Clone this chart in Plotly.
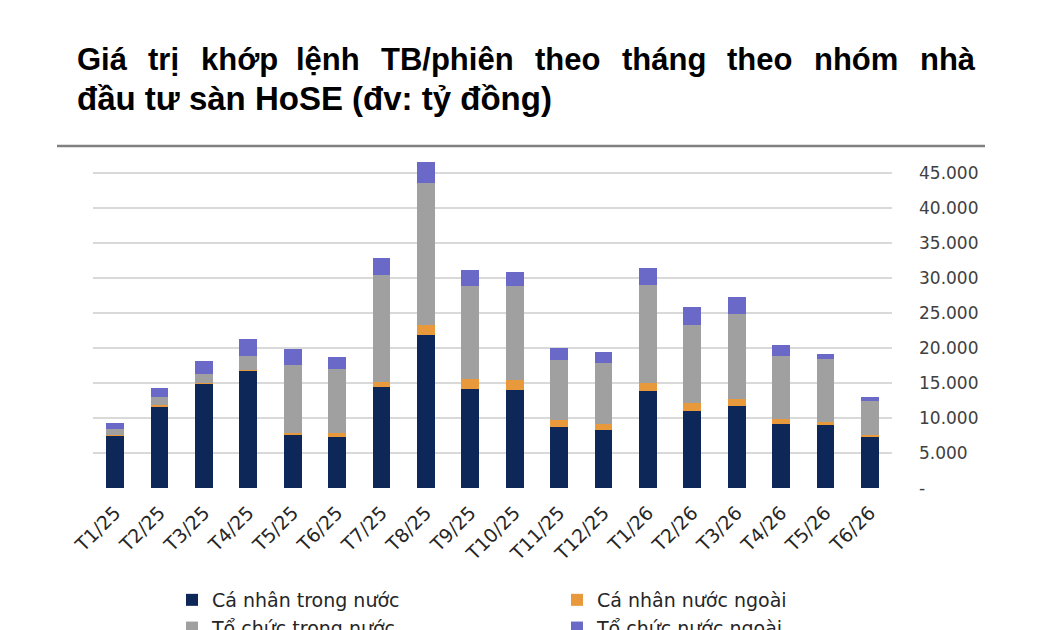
import unicodedata
import plotly.graph_objects as go

# ---------------- data ----------------
categories = ["T1/25", "T2/25", "T3/25", "T4/25", "T5/25", "T6/25", "T7/25", "T8/25", "T9/25",
              "T10/25", "T11/25", "T12/25", "T1/26", "T2/26", "T3/26", "T4/26", "T5/26", "T6/26"]
ca_nhan_trong_nuoc = [7500, 11700, 14900, 16800, 7600, 7300, 14400, 21900, 14200,
                      14000, 8700, 8300, 13900, 10950, 11650, 9200, 9000, 7300]
ca_nhan_nuoc_ngoai = [100, 100, 100, 100, 250, 550, 700, 1400, 1400,
                      1450, 1050, 900, 1150, 1150, 1100, 700, 500, 300]
to_chuc_trong_nuoc = [850, 1150, 1300, 1900, 9700, 9200, 15300, 20300, 13200,
                      13350, 8550, 8700, 13900, 11150, 12100, 8900, 8950, 4850]
to_chuc_nuoc_ngoai = [900, 1400, 1800, 2500, 2350, 1600, 2500, 3000, 2300,
                      2100, 1750, 1600, 2500, 2550, 2500, 1650, 700, 500]
series_names = ["Cá nhân trong nước", "Cá nhân nước ngoài", "Tổ chức trong nước", "Tổ chức nước ngoài"]
tick_values = [0, 5000, 10000, 15000, 20000, 25000, 30000, 35000, 40000, 45000]
tick_labels = ["-", "5.000", "10.000", "15.000", "20.000", "25.000", "30.000", "35.000", "40.000", "45.000"]
title_line1 = "Giá trị khớp lệnh TB/phiên theo tháng theo nhóm nhà"
title_line2 = "đầu tư sàn HoSE (đv: tỷ đồng)"

# ---------------- layout geometry ----------------
W, H = 1050, 630
L, R, T, B = 93, 892, 152, 488
PW, PH = R - L, B - T


def xp(px):
    return (px - L) / PW


def yp(py):
    return (B - py) / PH


colors = ["#0E2759", "#E8993C", "#A0A0A0", "#6B69C8"]
values = [ca_nhan_trong_nuoc, ca_nhan_nuoc_ngoai, to_chuc_trong_nuoc, to_chuc_nuoc_ngoai]

fig = go.Figure()
for name, vals, col in zip(series_names, values, colors):
    fig.add_trace(go.Bar(x=categories, y=vals, name=name, marker=dict(color=col, line=dict(width=0))))

# ---------------- title (justified first line) ----------------
AB = {' ': 278, 'a': 556, 'b': 611, 'c': 556, 'd': 611, 'e': 556, 'f': 333, 'g': 611, 'h': 611,
      'i': 278, 'j': 278, 'k': 556, 'l': 278, 'm': 889, 'n': 611, 'o': 611, 'p': 611, 'q': 611,
      'r': 389, 's': 556, 't': 333, 'u': 611, 'v': 556, 'w': 778, 'x': 556, 'y': 556, 'z': 500,
      'T': 611, 'B': 722, 'G': 778, 'H': 722, 'S': 667, 'E': 667, '/': 278, '(': 333, ')': 333, ':': 333}


def word_width(word, size):
    w = 0
    for ch in word:
        base = unicodedata.normalize("NFD", ch.replace("đ", "d").replace("ơ", "o").replace("ư", "u"))[0]
        w += AB.get(base, 580)
    return w / 1000 * size


TSIZE = 31
tfont = dict(family="Liberation Sans, Arial, sans-serif", size=TSIZE, color="#000000")
annotations = []
words = title_line1.split(" ")
widths = [word_width(w, TSIZE) for w in words]
x0, x1 = 75, 973
gap = (x1 - x0 - sum(widths)) / (len(words) - 1)
cx = x0
for w, ww in zip(words, widths):
    annotations.append(dict(text="<b>%s</b>" % w, x=xp(cx), y=yp(59), xref="paper", yref="paper",
                            xanchor="left", yanchor="middle", showarrow=False, font=tfont))
    cx += ww + gap
annotations.append(dict(text="<b>%s</b>" % title_line2, x=xp(75), y=yp(99), xref="paper", yref="paper",
                        xanchor="left", yanchor="middle", showarrow=False,
                        font=dict(family="Liberation Sans, Arial, sans-serif", size=33, color="#000000")))

shapes = [dict(type="line", xref="paper", yref="paper", x0=xp(57), x1=xp(985), y0=yp(146), y1=yp(146),
               line=dict(color="#808080", width=2.5))]

fig.update_layout(
    width=W, height=H,
    margin=dict(l=L, r=W - R, t=T, b=H - B, pad=0, autoexpand=False),
    paper_bgcolor="white", plot_bgcolor="white",
    barmode="stack", bargap=0.6,
    showlegend=True,
    legend=dict(orientation="h", xref="container", yref="container",
                x=172 / W, y=1 - 581 / H, xanchor="left", yanchor="top",
                traceorder="normal", entrywidth=340, entrywidthmode="pixels", itemwidth=30,
                font=dict(family="DejaVu Sans, sans-serif", size=19, color="#262626"),
                bgcolor="rgba(0,0,0,0)"),
    xaxis=dict(type="category", tickangle=-45, showgrid=False, showline=False, ticks="",
               automargin=False, ticklabelstandoff=9,
               tickfont=dict(family="DejaVu Sans, sans-serif", size=19, color="#262626")),
    yaxis=dict(side="right", range=[0, 48000], tickvals=tick_values, ticktext=tick_labels,
               showgrid=True, gridcolor="#D9D9D9", gridwidth=1.5, zeroline=False, showline=False,
               ticks="", ticklabelstandoff=26, automargin=False,
               tickfont=dict(family="DejaVu Sans, sans-serif", size=17, color="#404040")),
    annotations=annotations, shapes=shapes,
)

fig.write_html("out.html")
